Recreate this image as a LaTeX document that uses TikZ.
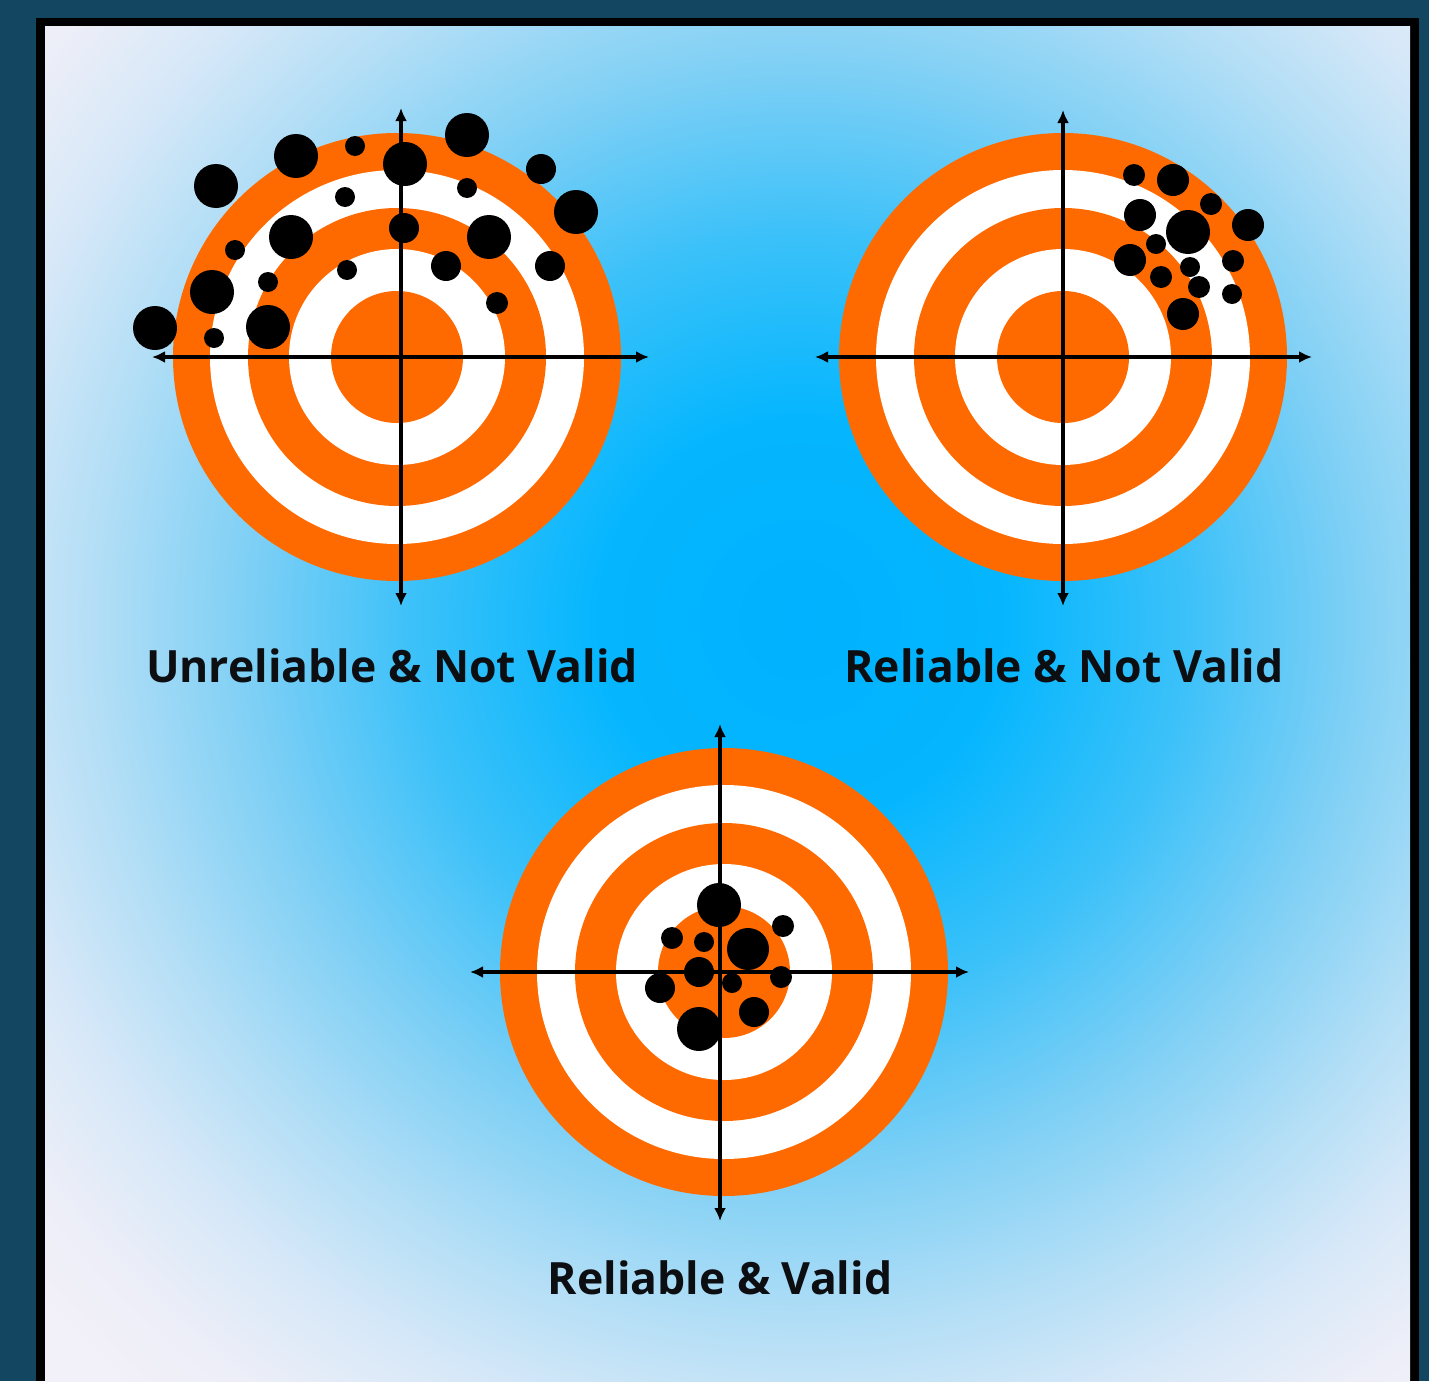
\documentclass[tikz,border=0pt]{standalone}
\usepackage{fontspec}
\setmainfont{Open Sans}
\usetikzlibrary{arrows.meta}
\definecolor{frameteal}{RGB}{19,71,97}
\definecolor{tgorange}{RGB}{255,106,0}
\definecolor{bg0}{RGB}{0,178,255}
\definecolor{bg1}{RGB}{5,182,254}
\definecolor{bg2}{RGB}{60,193,249}
\definecolor{bg3}{RGB}{125,207,245}
\definecolor{bg4}{RGB}{178,222,246}
\definecolor{bg5}{RGB}{215,232,248}
\definecolor{bg6}{RGB}{236,238,248}
\definecolor{bg7}{RGB}{242,240,248}
\definecolor{inkblack}{RGB}{12,14,18}
% 25bp corresponds to the shaded circle's radius (1100 px): 1bp = 44px
\pgfdeclareradialshading{bgshade}{\pgfpoint{0bp}{0bp}}{color(0bp)=(bg0); color(4.6bp)=(bg1); color(8.8bp)=(bg2); color(12.5bp)=(bg3); color(16bp)=(bg4); color(18.8bp)=(bg5); color(21.3bp)=(bg6); color(23.2bp)=(bg7); color(50bp)=(bg7)}
\tikzset{
  axisline/.style={line width=3.2pt, black, {Latex[length=13pt,width=12pt]}-{Latex[length=13pt,width=12pt]}},
  hole/.style={fill=black},
  lbl/.style={font=\bfseries\fontsize{44.5}{48}\selectfont, text=inkblack, anchor=base, inner sep=0pt}
}
\newcommand{\target}[2]{%
  \fill[tgorange] (#1,#2) circle (224);
  \fill[white] (#1,#2) circle (187);
  \fill[tgorange] (#1,#2) circle (149);
  \fill[white] (#1,#2) circle (108);
  \fill[tgorange] (#1,#2) circle (66);
}
\begin{document}
\begin{tikzpicture}[x=1pt,y=-1pt]
\useasboundingbox (0,0) rectangle (1429,1381);
\fill[frameteal] (0,0) rectangle (1429,1381);
\fill[black] (36,18) rectangle (1419,1381);
\begin{scope}
  \clip (45,27) rectangle (1410,1381);
  \fill[bg7] (45,27) rectangle (1410,1381);
  \shade[shading=bgshade] (800,620) circle (1100);
\end{scope}
% target 1
\target{397}{357}
\foreach \x/\y/\r in {216/186/22,296/156/22,355/146/10,405/164/22,467/135/22,541/169/15,576/212/22,467/188/10,345/197/10,291/237/22,404/228/15,489/237/22,235/250/10,446/266/15,550/266/15,347/270/10,212/292/22,268/282/10,497/303/11,155/328/22,214/338/10,268/327/22}
  \fill[hole] (\x,\y) circle (\r);
\coordinate (a1t) at (401,108); \coordinate (a1b) at (401,606);
\coordinate (a1l) at (152,357); \coordinate (a1r) at (649,357);
\draw[axisline] (a1t) -- (a1b);
\draw[axisline] (a1l) -- (a1r);
\node[lbl] (l1) at (392,682) {Unreliable \& Not Valid};
% target 2
\target{1063}{357}
\coordinate (a2t) at (1063,110); \coordinate (a2b) at (1063,606);
\coordinate (a2l) at (815,357); \coordinate (a2r) at (1312,357);
\draw[axisline] (a2t) -- (a2b);
\draw[axisline] (a2l) -- (a2r);
\foreach \x/\y/\r in {1134/175/11,1173/180/16,1211/204/11,1140/215/16,1188/232/22,1248/225/16,1156/244/10,1130/260/16,1233/261/11,1190/267/10,1161/277/11,1199/287/11,1232/294/10,1183/314/16}
  \fill[hole] (\x,\y) circle (\r);
\node[lbl] (l2) at (1064,682) {Reliable \& Not Valid};
% target 3
\target{724}{972}
\coordinate (a3t) at (720,724); \coordinate (a3b) at (720,1221);
\coordinate (a3l) at (470,972); \coordinate (a3r) at (969,972);
\foreach \x/\y/\r in {719/905/22,783/926/11,672/938/11,704/942/10,748/949/21,699/972/15,781/977/11,732/983/10,660/988/15,754/1012/15,699/1029/22}
  \fill[hole] (\x,\y) circle (\r);
\draw[axisline] (a3t) -- (a3b);
\draw[axisline] (a3l) -- (a3r);
\node[lbl] (l3) at (720,1294) {Reliable \& Valid};
\end{tikzpicture}
\end{document}
